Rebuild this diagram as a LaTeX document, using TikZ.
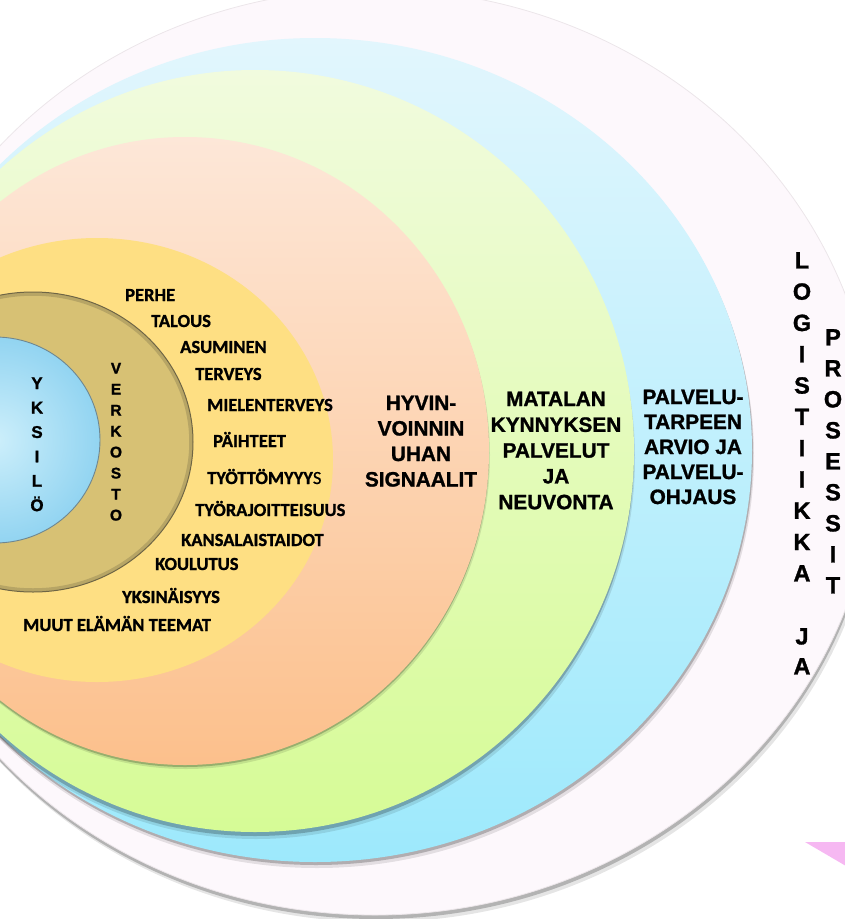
\documentclass[tikz,border=0pt]{standalone}
\usepackage{fontspec}
\setmainfont{Liberation Sans}[BoldFont={Liberation Sans Bold}]
\newfontfamily\calfont{Carlito}[FakeBold=0.6]
\newfontfamily\arialbold{Liberation Sans Bold}[FakeBold=1.2]
\newfontfamily\calbold{Carlito Bold}[FakeBold=1.0]
\definecolor{outerc}{HTML}{FDF8FC}
\definecolor{outerline}{HTML}{ECE6EA}
\definecolor{bluetop}{HTML}{E2F6FD}
\definecolor{bluebot}{HTML}{9DE9FC}
\definecolor{greentop}{HTML}{F1FBDE}
\definecolor{greenbot}{HTML}{D6FB96}
\definecolor{peachtop}{HTML}{FDE7D8}
\definecolor{peachbot}{HTML}{FCC08C}
\definecolor{yellowc}{HTML}{FEDF83}
\definecolor{khakic}{HTML}{D7C174}
\definecolor{khakiedge}{HTML}{6E6545}
\definecolor{innerin}{HTML}{CDEFFB}
\definecolor{innerout}{HTML}{92D4F1}
\definecolor{inneredge}{HTML}{6F8790}
\definecolor{pinktri}{HTML}{F6B8F2}
\begin{document}
\begin{tikzpicture}[x=1pt,y=-1pt,
  shad/.style={fill=black,opacity=0.22},
  shadsoft/.style={fill=black,opacity=0.10},
  lab/.style={font=\calbold\fontsize{18.5}{22}\selectfont,anchor=base west,inner sep=0pt},
  blk/.style={font=\arialbold\fontsize{20.8}{25.5}\selectfont,align=center,anchor=north,inner sep=0pt},
  bigvlet/.style={font=\arialbold\fontsize{23.5}{28}\selectfont,anchor=base,inner sep=0pt},
  ylet/.style={font=\arialbold\fontsize{17}{20}\selectfont,anchor=base,inner sep=0pt},
  vklet/.style={font=\arialbold\fontsize{15.5}{18}\selectfont,anchor=base,inner sep=0pt}]
\useasboundingbox (0,0) rectangle (845,919);
\clip (0,0) rectangle (845,919);
% outer ring
\fill[shadsoft] (378,459) ellipse [x radius=500pt, y radius=463pt];
\fill[shad] (376,456) ellipse [x radius=500pt, y radius=463pt];
\fill[outerc,draw=outerline,line width=0.8pt] (375,452) ellipse [x radius=500pt, y radius=463pt];
% blue
\fill[shadsoft] (317,456) ellipse [x radius=437pt, y radius=412pt];
\fill[shad] (316,453) ellipse [x radius=437pt, y radius=412pt];
\shade[top color=bluetop,bottom color=bluebot] (315,450) ellipse [x radius=437pt, y radius=412pt];
% green
\fill[shadsoft] (256,458) ellipse [x radius=379pt, y radius=381pt];
\fill[shad] (255,455) ellipse [x radius=379pt, y radius=381pt];
\shade[top color=greentop,bottom color=greenbot] (255,451) ellipse [x radius=379pt, y radius=381pt];
% peach
\fill[shadsoft] (186,455) ellipse [x radius=304pt, y radius=314pt];
\fill[shad] (185,453) ellipse [x radius=304pt, y radius=314pt];
\shade[top color=peachtop,bottom color=peachbot] (185,451) ellipse [x radius=304pt, y radius=314pt];
% yellow
\fill[yellowc] (97,460) ellipse [x radius=236pt, y radius=222pt];
% khaki ring
\fill[khakic] (33,442) ellipse [x radius=160pt, y radius=150pt];
\draw[khakiedge,opacity=0.3,line width=3.5pt] (33,442) ellipse [x radius=158pt, y radius=148pt];
\draw[khakiedge,line width=1pt] (33,442) ellipse [x radius=160pt, y radius=150pt];
% inner blue
\shade[inner color=innerin,outer color=innerout] (-5,440) ellipse [x radius=105pt, y radius=103pt];
\draw[inneredge,line width=0.9pt] (-5,440) ellipse [x radius=105pt, y radius=103pt];
% pink triangle
\fill[pinktri] (805,842) -- (846,842) -- (846,866) -- cycle;
% yellow-zone labels
\node[lab] (perhe) at (125,301) {PERHE};
\node[lab] (talous) at (151,327) {TALOUS};
\node[lab] (asum) at (180,353) {ASUMINEN};
\node[lab] (terv) at (195,380) {TERVEYS};
\node[lab] (miel) at (207,411) {MIELENTERVEYS};
\node[lab] (paih) at (213,447) {PÄIHTEET};
\node[lab] (tyott) at (207,484) {TYÖTTÖMYYY{\calfont S}};
\node[lab] (tyor) at (195,516) {TYÖRAJOITTEISUUS};
\node[lab] (kans) at (181,546) {KANSALAISTAIDOT};
\node[lab] (koul) at (155,570) {KOULUTUS};
\node[lab] (yksin) at (122,603) {YKSINÄISYYS};
\node[lab] (muut) at (23,631) {MUUT ELÄMÄN TEEMAT};
% blocks
\node[blk] (hyv) at (421,395.5) {HYVIN-\\VOINNIN\\UHAN\\SIGNAALIT};
\node[blk,font=\arialbold\fontsize{20.8}{25.8}\selectfont] (mat) at (556,391.5) {MATALAN\\KYNNYKSEN\\PALVELUT\\JA\\NEUVONTA};
\node[blk,font=\arialbold\fontsize{20.8}{25}\selectfont] (palv) at (693,389.5) {PALVELU-\\TARPEEN\\ARVIO JA\\PALVELU-\\OHJAUS};
% vertical words
\foreach \c [count=\i] in {L,O,G,I,S,T,I,I,K,K,A}
  \node[bigvlet] (lg\i) at (802,{260+31.3*(\i-1)+8.4}) {\c};
\node[bigvlet] (lgj) at (802,644.4) {J};
\node[bigvlet] (lga) at (802,674.4) {A};
\foreach \c [count=\i] in {P,R,O,S,E,S,S,I,T}
  \node[bigvlet] (pr\i) at (833,{337+31*(\i-1)+8.4}) {\c};
\foreach \c [count=\i] in {Y,K,S,I,L,Ö}
  \node[ylet] (yk\i) at (37,{383+24.4*(\i-1)+6.1}) {\c};
\foreach \c [count=\i] in {V,E,R,K,O,S,T,O}
  \node[vklet] (vk\i) at (116,{368+21*(\i-1)+5.5}) {\c};
\end{tikzpicture}
\end{document}
